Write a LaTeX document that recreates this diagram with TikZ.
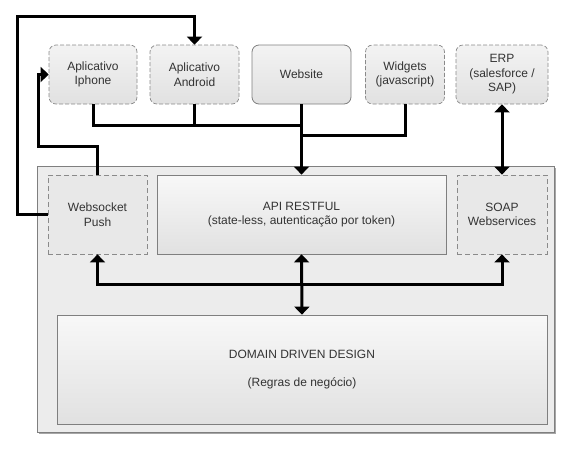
\documentclass[tikz,border=0pt]{standalone}
\usepackage{fontspec}
\setmainfont{Liberation Sans}
\usetikzlibrary{arrows.meta,shadows,decorations.pathmorphing}
\definecolor{txt}{HTML}{333333}
\definecolor{bord}{HTML}{7F7F7F}
\definecolor{dbord}{HTML}{8A8A8A}
\definecolor{boxtop}{HTML}{F3F3F3}
\definecolor{boxbot}{HTML}{E1E1E1}
\definecolor{contfill}{HTML}{ECECEC}
\begin{document}
\begin{tikzpicture}[x=1pt,y=-1pt,
  lbl/.style={text=txt, align=center, font=\fontsize{12}{14.5}\selectfont, inner sep=0pt},
  topbox/.style={lbl, rounded corners=7pt, top color=boxtop, bottom color=boxbot,
     minimum height=59pt},
  solidtop/.style={topbox, draw=bord, line width=0.8pt},
  cloudtop/.style={topbox, draw=dbord, line width=0.7pt, dash pattern=on 4pt off 2pt},
  innerbox/.style={lbl, top color=boxtop!60!white, bottom color=boxbot, draw=bord, line width=0.8pt},
  dashbox/.style={lbl, fill=boxbot!60!boxtop, draw=dbord, line width=0.8pt, dash pattern=on 5pt off 3pt},
  conn/.style={line width=3pt, black},
  tip/.style={-{Triangle[width=15pt,length=8pt]}},
  tips/.style={{Triangle[width=15pt,length=8pt]}-{Triangle[width=15pt,length=8pt]}},
  ]
\useasboundingbox (0,0) rectangle (573,451);
% container
\node[draw=bord, line width=0.8pt, fill=contfill, minimum width=517pt, minimum height=266pt,
  inner sep=0pt, drop shadow={shadow xshift=2pt, shadow yshift=-2pt, fill=black, opacity=0.35}]
  (cont) at (295.5,299) {};
% top boxes
\node[cloudtop, minimum width=88pt] (iph) at (93,74.5) {Aplicativo\\Iphone};
\node[cloudtop, minimum width=89pt] (and) at (194.5,74.5) {Aplicativo\\Android};
\node[solidtop, minimum width=99pt] (web) at (301.5,74.5) {Website};
\node[cloudtop, minimum width=79pt] (wid) at (405,74.5) {Widgets\\(javascript)};
\node[cloudtop, minimum width=92pt] (erp) at (502,74.5) {ERP\\(salesforce /\\SAP)};
% inner boxes
\node[dashbox, minimum width=99pt, minimum height=79pt] (ws) at (97.5,214.5) {Websocket\\Push};
\node[innerbox, minimum width=289pt, minimum height=79pt] (api) at (301.5,214.5) {API RESTFUL\\(state-less, autenticação por token)};
\node[dashbox, minimum width=90pt, minimum height=79pt] (soap) at (502,214.5) {SOAP\\Webservices};
\node[innerbox, minimum width=490pt, minimum height=109pt] (ddd) at (302,369.5) {DOMAIN DRIVEN DESIGN\\[13pt](Regras de negócio)};
% helper coordinates
\coordinate (tl) at (17,16);
\coordinate (c1) at (38,146);
\coordinate (j1) at (301.5,125);
\coordinate (j2) at (301.5,135);
\coordinate (b) at (301.5,284);
% connectors
\draw[conn, tip] (ws.west) -| (tl) -| (and.north);
\draw[conn, tip] (ws.north) |- (c1) |- (iph.west);
\draw[conn] (iph.south) |- (j1);
\draw[conn] (and.south) -- (and.south |- j1);
\draw[conn] (wid.south) |- (j2);
\draw[conn, tip] (web.south) -- (api.north);
\draw[conn, tips] (erp.south) -- (soap.north);
\draw[conn, tip] (b) -| (ws.south);
\draw[conn, tip] (b) -| (soap.south);
\draw[conn, tips] (api.south) -- (ddd.north);
\end{tikzpicture}
\end{document}
